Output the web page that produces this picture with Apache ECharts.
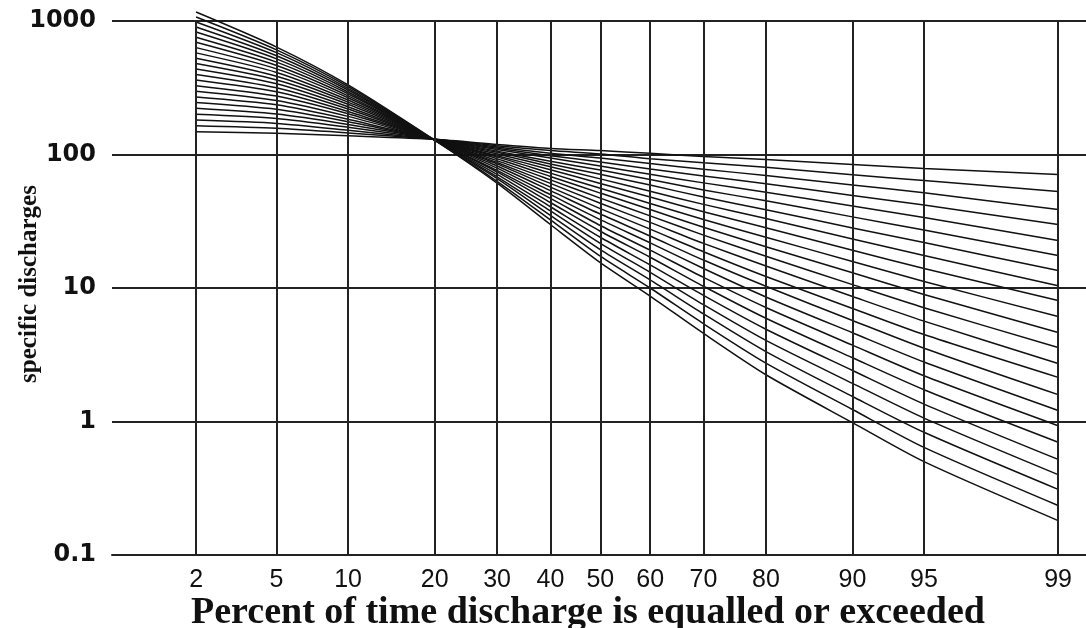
<!DOCTYPE html>
<html>
<head>
<meta charset="utf-8">
<script src="https://cdn.jsdelivr.net/npm/echarts@6/dist/echarts.min.js"></script>
<style>
html,body{margin:0;padding:0;background:#fff;}
#chart{width:1086px;height:628px;}
</style>
</head>
<body>
<div id="chart"></div>
<script>
// Percent of time (x positions of the read points)
const pct = [2, 5, 10, 20, 30, 40, 50, 60, 70, 80, 90, 95, 99];
// x tick labels (probability scale)
const xTickLabels = [2, 5, 10, 20, 30, 40, 50, 60, 70, 80, 90, 95, 99];
// y tick labels (log scale)
const yTickLabels = ['0.1', '1', '10', '100', '1000'];

// Specific discharge of each of the 23 curves at each percent (curve 1 = flattest ... curve 23 = steepest)
const q2  = [148, 164, 181, 200, 222, 245, 270, 298, 328, 362, 398, 437, 480, 526, 577, 632, 692, 756, 826, 902, 984, 1072, 1167];
const q5  = [144, 157, 171, 186, 201, 218, 236, 254, 274, 295, 316, 339, 362, 386, 412, 438, 464, 492, 520, 549, 579, 608, 638];
const q10 = [138, 145, 152, 160, 168, 176, 184, 193, 202, 210, 219, 228, 238, 247, 256, 266, 275, 285, 294, 304, 313, 323, 332];
const q20 = [130, 130, 130, 130, 130, 130, 129, 129, 129, 129, 129, 129, 129, 129, 129, 129, 128, 128, 128, 128, 128, 128, 128];
const q30 = [119, 116.5, 114, 111.5, 109, 106, 104, 101, 98, 96, 93, 90, 87, 85, 82, 79, 76, 74, 71, 68, 66, 63, 61];
const q40 = [111, 107, 102, 98, 94, 89, 85, 81, 77, 72.5, 68.5, 64.6, 60.8, 57, 53.6, 50, 46.9, 43.7, 40.6, 37.8, 35, 32.4, 29.9];
const q50 = [107, 101, 94, 88, 82, 76.5, 71, 65.7, 60.7, 55.9, 51.4, 47.1, 43.1, 39.3, 35.8, 32.5, 29.4, 26.6, 24, 21.6, 19.4, 17.3, 15.5];
const q60 = [102, 93, 85.5, 78, 71, 65, 59, 53, 48, 43, 38.7, 34.7, 31, 27.6, 24.5, 21.8, 19.2, 17, 14.9, 13.1, 11.5, 10, 8.7];
const q70 = [96.6, 86.6, 77.4, 69, 61.3, 54.3, 48, 42.3, 37.2, 32.6, 28.5, 24.9, 21.6, 18.7, 16.2, 14, 12, 10.3, 8.8, 7.5, 6.4, 5.4, 4.57];
const q80 = [91.8, 80.1, 69.7, 60.4, 52.2, 45, 38.6, 33.1, 28.3, 24, 20.4, 17.3, 14.6, 12.2, 10.3, 8.57, 7.14, 5.93, 4.91, 4.05, 3.34, 2.74, 2.24];
const q90 = [84.1, 70.6, 59.1, 49.3, 41.1, 34.1, 28.2, 23.3, 19.2, 15.8, 13, 10.6, 8.64, 7.03, 5.71, 4.62, 3.73, 3, 2.41, 1.93, 1.54, 1.23, 0.98];
const q95 = [78.5, 63.8, 51.7, 41.8, 33.8, 27.2, 21.9, 17.5, 14, 11.2, 8.95, 7.12, 5.65, 4.48, 3.54, 2.79, 2.2, 1.73, 1.35, 1.06, 0.83, 0.64, 0.5];
const q99 = [70.8, 52.8, 38.7, 29.9, 22.7, 17.5, 13.5, 10.4, 8.06, 6.12, 4.64, 3.58, 2.72, 2.14, 1.59, 1.21, 0.93, 0.70, 0.52, 0.40, 0.31, 0.235, 0.181];

const columns = [q2, q5, q10, q20, q30, q40, q50, q60, q70, q80, q90, q95, q99];

// Normal probability scale: percent -> standard normal quantile
function probit(p) {
  const a = [-3.969683028665376e+01, 2.209460984245205e+02, -2.759285104469687e+02, 1.383577518672690e+02, -3.066479806614716e+01, 2.506628277459239e+00];
  const b = [-5.447609879822406e+01, 1.615858368580409e+02, -1.556989798598866e+02, 6.680131188771972e+01, -1.328068155288572e+01];
  const c = [-7.784894002430293e-03, -3.223964580411365e-01, -2.400758277161838e+00, -2.549732539343734e+00, 4.374664141464968e+00, 2.938163982698783e+00];
  const d = [7.784695709041462e-03, 3.224671290700398e-01, 2.445134137142996e+00, 3.754408661907416e+00];
  const pl = 0.02425, ph = 1 - pl;
  let q, r;
  if (p < pl) {
    q = Math.sqrt(-2 * Math.log(p));
    return (((((c[0]*q+c[1])*q+c[2])*q+c[3])*q+c[4])*q+c[5]) / ((((d[0]*q+d[1])*q+d[2])*q+d[3])*q+1);
  }
  if (p <= ph) {
    q = p - 0.5; r = q * q;
    return (((((a[0]*r+a[1])*r+a[2])*r+a[3])*r+a[4])*r+a[5])*q / (((((b[0]*r+b[1])*r+b[2])*r+b[3])*r+b[4])*r+1);
  }
  q = Math.sqrt(-2 * Math.log(1 - p));
  return -(((((c[0]*q+c[1])*q+c[2])*q+c[3])*q+c[4])*q+c[5]) / ((((d[0]*q+d[1])*q+d[2])*q+d[3])*q+1);
}

const nCurves = q2.length;
const series = [];
for (let i = 0; i < nCurves; i++) {
  series.push({
    type: 'line',
    data: pct.map((p, j) => [probit(p / 100), columns[j][i]]),
    symbol: 'none',
    smooth: 0.25,
    clip: false,
    silent: true,
    z: 3,
    lineStyle: { color: '#111', width: 1.5 }
  });
}

// vertical grid lines with their percent labels
series[0].markLine = {
  symbol: 'none',
  silent: true,
  animation: false,
  lineStyle: { color: '#222', width: 2, type: 'solid' },
  label: {
    show: true,
    position: 'start',
    distance: 13,
    formatter: '{b}',
    color: '#111',
    fontFamily: 'Liberation Sans',
    fontSize: 25
  },
  data: xTickLabels.map(p => [
    { name: String(p), coord: [probit(p / 100), 0.1] },
    { coord: [probit(p / 100), 1000] }
  ])
};

const chart = echarts.init(document.getElementById('chart'), null, { renderer: 'canvas' });
chart.setOption({
  animation: false,
  backgroundColor: '#fff',
  grid: { left: 112, top: 21, right: 0, bottom: 73, containLabel: false },
  xAxis: {
    type: 'value',
    min: -2.481,
    max: 2.468,
    axisLine: { show: true, lineStyle: { color: '#222', width: 2 } },
    axisTick: { show: false },
    axisLabel: { show: false },
    splitLine: { show: false }
  },
  yAxis: {
    type: 'log',
    logBase: 10,
    min: 0.1,
    max: 1000,
    axisLine: { show: true, lineStyle: { color: '#222', width: 2 } },
    axisTick: { show: false },
    splitLine: { show: true, lineStyle: { color: '#222', width: 2 } },
    axisLabel: {
      margin: 16,
      color: '#111',
      fontFamily: 'DejaVu Sans',
      fontWeight: 'bold',
      fontSize: 24,
      formatter: function (v) {
        const e = Math.round(Math.log10(v));
        return yTickLabels[e + 1] !== undefined ? yTickLabels[e + 1] : '';
      }
    }
  },
  graphic: [
    {
      type: 'text',
      x: 30, y: 284,
      rotation: Math.PI / 2,
      style: {
        text: 'specific discharges',
        fill: '#111',
        font: 'bold 25px "Liberation Serif"',
        textAlign: 'center',
        textVerticalAlign: 'middle'
      }
    },
    {
      type: 'text',
      x: 588, y: 613,
      style: {
        text: 'Percent of time discharge is equalled or exceeded',
        fill: '#111',
        font: 'bold 38px "Liberation Serif"',
        textAlign: 'center',
        textVerticalAlign: 'middle'
      }
    }
  ],
  series: series
});
</script>
</body>
</html>
